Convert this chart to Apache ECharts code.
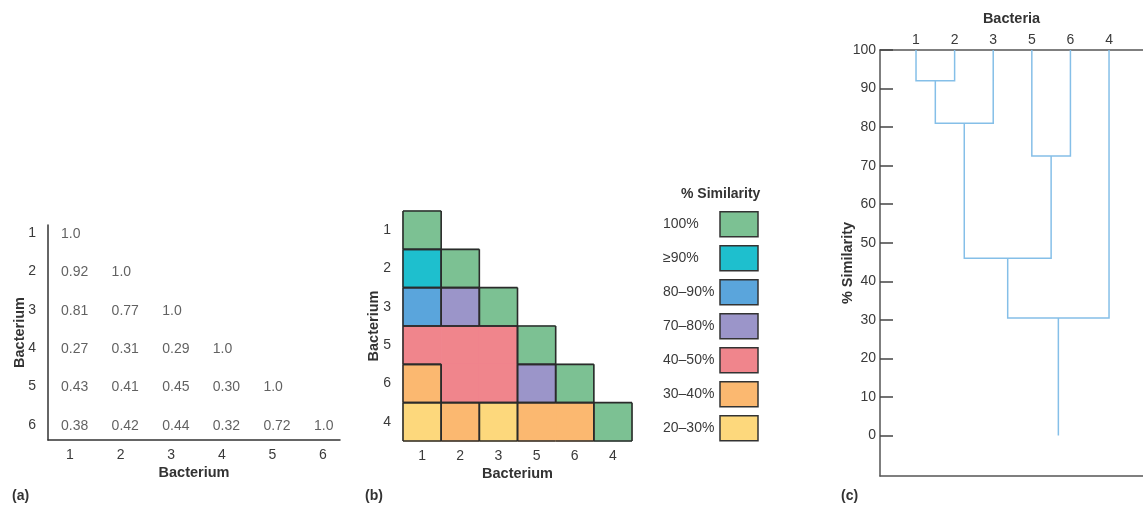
<!DOCTYPE html>
<html><head><meta charset="utf-8">
<script src="https://cdn.jsdelivr.net/npm/echarts@6/dist/echarts.min.js"></script>
<style>html,body{margin:0;padding:0;background:#fff}#c{width:1143px;height:506px}</style>
</head><body><div id="c"></div>
<script>
// ---------- data ----------
const bacteria = ['1', '2', '3', '4', '5', '6'];
const similarity = [
  [1.0],
  [0.92, 1.0],
  [0.81, 0.77, 1.0],
  [0.27, 0.31, 0.29, 1.0],
  [0.43, 0.41, 0.45, 0.30, 1.0],
  [0.38, 0.42, 0.44, 0.32, 0.72, 1.0]
];
const clusterOrder = ['1', '2', '3', '5', '6', '4'];
const classLabels = ['100%', '≥90%', '80–90%', '70–80%', '40–50%', '30–40%', '20–30%'];
const classMin = [100, 90, 80, 70, 40, 30, 20];
const classMax = [100, 100, 90, 80, 50, 40, 30];
const classColors = ['#7cc193', '#1ebfce', '#5aa5dc', '#9b95c9', '#f0858c', '#fbb870', '#fdd87c'];
const leafOrder = ['1', '2', '3', '5', '6', '4'];
// [left, right, height]; numbers refer to earlier merges
const merges = [['1', '2', 92], [0, '3', 81], ['5', '6', 72.5], [1, 2, 46], [3, '4', 30.5]];
const simTicks = [0, 10, 20, 30, 40, 50, 60, 70, 80, 90, 100];
const panelLabels = ['(a)', '(b)', '(c)'];

// ---------- helpers ----------
const FONT = '"Liberation Sans", Arial, sans-serif';
function sim(a, b) {
  const i = bacteria.indexOf(a), j = bacteria.indexOf(b);
  return similarity[Math.max(i, j)][Math.min(i, j)];
}
function classOf(v) {
  for (let k = 0; k < classMin.length; k++) {
    if (classMin[k] === classMax[k] ? v === classMin[k] : (v >= classMin[k] && v < classMax[k])) return k;
  }
  return -1;
}
// panel (a) table
const tableData = [];
similarity.forEach((row, r) => row.forEach((v, c) => tableData.push([c + 1, r + 1, v])));
// panel (b) cells
const cellVal = {};
const cellsByClass = classLabels.map(() => []);
clusterOrder.forEach((rb, r) => {
  for (let c = 0; c <= r; c++) {
    const v = Math.round(sim(rb, clusterOrder[c]) * 100);
    cellVal[c + ',' + r] = v;
    cellsByClass[classOf(v)].push([c, r, v]);
  }
});
function renderCell(params, api) {
  const c = api.value(0), r = api.value(1), v = api.value(2);
  const p = api.coord([c, r]);
  const s = api.size([1, 1]);
  const x0 = p[0] - s[0] / 2, y0 = p[1] - s[1] / 2, x1 = x0 + s[0], y1 = y0 + s[1];
  const k = classOf(v);
  const col = api.visual('color');
  const children = [{ type: 'rect', shape: { x: x0, y: y0, width: s[0], height: s[1] }, style: { fill: col, stroke: col, lineWidth: 1 }, z2: 1 }];
  const edges = [[0, -1, [x0, y0, x1, y0]], [0, 1, [x0, y1, x1, y1]], [-1, 0, [x0, y0, x0, y1]], [1, 0, [x1, y0, x1, y1]]];
  edges.forEach(([dc, dr, sg]) => {
    const nv = cellVal[(c + dc) + ',' + (r + dr)];
    if (nv === undefined || classOf(nv) !== k) {
      children.push({ type: 'line', shape: { x1: sg[0], y1: sg[1], x2: sg[2], y2: sg[3] }, style: { stroke: '#2b2b2b', lineWidth: 1.6 }, z2: 10 });
    }
  });
  return { type: 'group', children };
}
// panel (c) dendrogram links
const nodes = [];
const links = [];
function pos(ref) { return typeof ref === 'number' ? nodes[ref] : { x: leafOrder.indexOf(ref), h: simTicks[simTicks.length - 1] }; }
merges.forEach(([a, b, h]) => {
  const pa = pos(a), pb = pos(b);
  nodes.push({ x: (pa.x + pb.x) / 2, h });
  links.push({ coords: [[pa.x, pa.h], [pa.x, h], [pb.x, h], [pb.x, pb.h]] });
});
const root = nodes[nodes.length - 1];
links.push({ coords: [[root.x, root.h], [root.x, simTicks[0]]] });

const tickText = { color: '#3a3a3a', fontSize: 14, fontFamily: FONT };
const nameText = { color: '#333', fontSize: 14.5, fontWeight: 'bold', fontFamily: FONT };
const panelText = { fontSize: 14, fontWeight: 'bold', color: '#333', fontFamily: FONT };
const darkLine = { color: '#333', width: 1.5 };

const chart = echarts.init(document.getElementById('c'), null, { renderer: 'canvas' });
chart.setOption({
  animation: false,
  backgroundColor: '#fff',
  textStyle: { fontFamily: FONT },
  title: [
    { text: panelLabels[0], left: 7, top: 484, textStyle: panelText },
    { text: panelLabels[1], left: 360, top: 484, textStyle: panelText },
    { text: panelLabels[2], left: 836, top: 484, textStyle: panelText },
    { text: '% Similarity', left: 676, top: 182, textStyle: { fontSize: 14, fontWeight: 'bold', color: '#333', fontFamily: FONT } }
  ],
  grid: [
    { left: 48, top: 225, width: 292, height: 215 },
    { left: 403, top: 211, width: 229, height: 230 },
    { left: 880, top: 50, right: 0, bottom: 30 }
  ],
  xAxis: [
    { gridIndex: 0, type: 'value', min: 0.565, max: 6.336, axisLine: { onZero: false, lineStyle: darkLine }, axisTick: { show: false }, splitLine: { show: false },
      axisLabel: Object.assign({ customValues: [1, 2, 3, 4, 5, 6], formatter: v => bacteria[v - 1], margin: 8 }, tickText),
      name: 'Bacterium', nameLocation: 'middle', nameGap: 25, nameMoveOverlap: false, nameTextStyle: nameText },
    { gridIndex: 1, type: 'category', data: clusterOrder, axisLine: { show: false, onZero: false }, axisTick: { show: false },
      axisLabel: Object.assign({ margin: 8 }, tickText),
      name: 'Bacterium', nameLocation: 'middle', nameGap: 25, nameMoveOverlap: false, nameTextStyle: nameText },
    { gridIndex: 2, type: 'value', position: 'top', min: -0.933, max: 5.88, axisLine: { onZero: false, lineStyle: { color: '#555', width: 1.5 } }, axisTick: { show: false }, splitLine: { show: false },
      axisLabel: Object.assign({ customValues: [0, 1, 2, 3, 4, 5], formatter: v => leafOrder[v], margin: 3 }, tickText),
      name: 'Bacteria', nameLocation: 'middle', nameGap: 24, nameMoveOverlap: false, nameTextStyle: nameText },
    { gridIndex: 2, type: 'value', position: 'bottom', min: -0.933, max: 5.88, axisLine: { onZero: false, lineStyle: { color: '#555', width: 1.5 } }, axisTick: { show: false }, axisLabel: { show: false }, splitLine: { show: false } }
  ],
  yAxis: [
    { gridIndex: 0, type: 'value', inverse: true, min: 0.79, max: 6.39, axisLine: { show: true, onZero: false, lineStyle: darkLine }, axisTick: { show: false }, splitLine: { show: false },
      axisLabel: Object.assign({ customValues: [1, 2, 3, 4, 5, 6], formatter: v => bacteria[v - 1], margin: 12 }, tickText),
      name: 'Bacterium', nameLocation: 'middle', nameGap: 21, nameMoveOverlap: false, nameTextStyle: nameText },
    { gridIndex: 1, type: 'category', inverse: true, data: clusterOrder, axisLine: { show: false, onZero: false }, axisTick: { show: false },
      axisLabel: Object.assign({ margin: 12 }, tickText),
      name: 'Bacterium', nameLocation: 'middle', nameGap: 22, nameMoveOverlap: false, nameTextStyle: nameText },
    { gridIndex: 2, type: 'value', min: -10.5, max: 100, axisLine: { show: true, onZero: false, lineStyle: { color: '#555', width: 1.5 } }, splitLine: { show: false },
      axisTick: { show: true, inside: true, length: 13, customValues: simTicks, lineStyle: { color: '#444', width: 1.5 } },
      axisLabel: Object.assign({ customValues: simTicks, margin: 4 }, tickText),
      name: '% Similarity', nameLocation: 'middle', nameGap: 25, nameMoveOverlap: false, nameTextStyle: nameText }
  ],
  legend: {
    orient: 'vertical', left: 663, top: 211, padding: 0, itemWidth: 38, itemHeight: 25, itemGap: 7.5, align: 'right',
    icon: 'rect', selectedMode: false, data: classLabels,
    itemStyle: { borderColor: '#333', borderWidth: 1.5 },
    formatter: n => '{l|' + n + '}',
    textStyle: { color: '#3a3a3a', fontSize: 14, fontFamily: FONT, rich: { l: { width: 52, align: 'left', fontSize: 14, color: '#3a3a3a', fontFamily: FONT } } }
  },
  series: [
    { type: 'scatter', xAxisIndex: 0, yAxisIndex: 0, data: tableData, symbolSize: 1, itemStyle: { color: 'rgba(0,0,0,0)' }, silent: true,
      label: { show: true, position: 'inside', align: 'left', offset: [-9, 1], color: '#3a3a3a', fontSize: 14, fontFamily: FONT,
        formatter: p => (p.value[2] === 1 ? '1.0' : p.value[2].toFixed(2)) } },
    ...classLabels.map((name, k) => ({
      type: 'custom', name, xAxisIndex: 1, yAxisIndex: 1, color: classColors[k], data: cellsByClass[k], renderItem: renderCell, silent: true
    })),
    { type: 'lines', coordinateSystem: 'cartesian2d', xAxisIndex: 2, yAxisIndex: 2, polyline: true, silent: true,
      lineStyle: { color: '#85bfe8', width: 1.5, opacity: 1 }, data: links }
  ]
});
</script>
</body></html>
